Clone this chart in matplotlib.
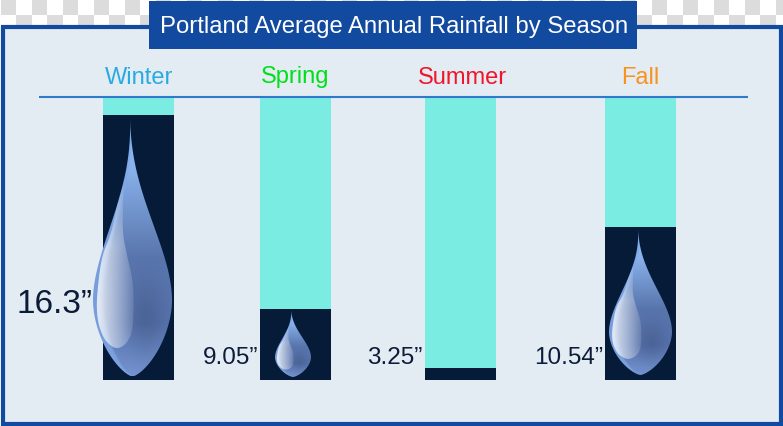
import numpy as np
import matplotlib
matplotlib.use("Agg")
import matplotlib.pyplot as plt
from matplotlib.patches import Rectangle, Polygon

plt.rcParams['font.family'] = ['Liberation Sans', 'DejaVu Sans']

TITLE = "Portland Average Annual Rainfall by Season"
seasons = ["Winter", "Spring", "Summer", "Fall"]
season_colors = ["#29abe2", "#00e01a", "#f0152b", "#f7931e"]
rain_labels = ["16.3”", "9.05”", "3.25”", "10.54”"]
# Fill heights as drawn in the picture (the graphic is not to scale with its labels)
drawn_levels = [265, 71, 12, 153]
column_capacity = [283, 283, 283, 283]

W, H = 783, 426
fig = plt.figure(figsize=(W / 100, H / 100), dpi=100, facecolor="white")

# background layer in pixel coordinates
bg = fig.add_axes([0, 0, 1, 1], zorder=0)
bg.set_xlim(0, W); bg.set_ylim(H, 0); bg.axis("off")
for r, top in enumerate(range(0, 31, 15)):
    for c in range(0, 52):
        if (r + c) % 2 == 0:
            bg.add_patch(Rectangle((0.7 + c * 15.5, top), 15.5, 15, fc="#dcdcdc", ec="none"))
bg.add_patch(Rectangle((3, 27), 778, 397, fc="#e3ebf3", ec="#124a9f", lw=3, zorder=3))

# columns
centers = [138.5, 295.5, 460.5, 640.5]
bars = fig.add_axes([0, (H - 380) / H, 1, 283 / H], zorder=1)
bars.set_xlim(0, W); bars.set_ylim(0, 283); bars.axis("off"); bars.patch.set_alpha(0)
bars.bar(centers, column_capacity, width=71, color="#7aece2")
bars.bar(centers, drawn_levels, width=71, color="#051b38")

# overlay layer
ax = fig.add_axes([0, 0, 1, 1], zorder=2)
ax.set_xlim(0, W); ax.set_ylim(H, 0); ax.axis("off"); ax.patch.set_alpha(0)


def width_at(t):
    """Teardrop half-width (relative) at relative height t."""
    t = np.asarray(t, dtype=float)
    up = np.clip(t / .71, 0, 1) ** 1.22
    upper = 3 * up ** 2 - 2 * up ** 3
    low = np.clip((t - .71) / .29, 0, 1)
    lower = np.clip(1 - low ** 1.8, 0, 1) ** .7
    return np.where(t < .71, upper, lower)


stops_t = [0, .2, .4, .55, .8, 1]
stops_c = np.array([[.56, .74, .97], [.54, .70, .93], [.43, .56, .78],
                    [.35, .46, .68], [.34, .45, .68], [.46, .58, .82]])

hl_x = np.array([372, 368, 355, 335, 305, 290, 294, 312, 335, 355, 380, 398, 402, 399, 385, 368, 370])
hl_y = np.array([215, 260, 300, 400, 470, 600, 665, 715, 738, 745, 730, 695, 620, 540, 480, 400, 300])
hl_u = (hl_x - 398) / 118
hl_t = (hl_y - 45) / 783


def smooth_closed(v, n):
    k = np.ones(n) / n
    return np.convolve(np.r_[v[-n:], v, v[:n]], k, mode="same")[n:-n]


def draw_drop(cx, half, tip_x, tip_y, bottom):
    h = bottom - tip_y
    t = np.linspace(0, 1, 500)
    w = width_at(t)
    shift = (tip_x - cx) * (1 - np.clip(t / 0.6, 0, 1)) ** 1.5
    xs = np.r_[cx + shift - w * half, (cx + shift + w * half)[::-1]]
    ys = np.r_[tip_y + t * h, (tip_y + t * h)[::-1]]
    outline = Polygon(np.c_[xs, ys], closed=True, fc="none", ec="none")
    ax.add_patch(outline)

    ny, nx = 400, 300
    U, T = np.meshgrid(np.linspace(-1.05, 1.05, nx), np.linspace(0, 1, ny))
    rgb = np.stack([np.interp(T, stops_t, stops_c[:, i]) for i in range(3)], axis=-1)
    S = U / np.maximum(width_at(T), .02)
    rim = np.clip((-S - .7) / .12, 0, 1)[..., None]
    rgb = rgb * (1 - .8 * rim) + np.array([.50, .66, .90]) * .8 * rim
    dark = np.exp(-(((U - .35) / .45) ** 2 + ((T - .78) / .14) ** 2))[..., None]
    rgb = rgb * (1 - .12 * dark)
    ext = (cx - 1.05 * half, cx + 1.05 * half, bottom, tip_y)
    im = ax.imshow(rgb, extent=ext, aspect="auto", interpolation="bilinear", zorder=4)
    im.set_clip_path(outline)

    # highlight
    idx = np.linspace(0, len(hl_u), 400, endpoint=False)
    xp = np.arange(len(hl_u) + 1)
    hu = smooth_closed(np.interp(idx, xp, np.r_[hl_u, hl_u[0]]), 21)
    ht = smooth_closed(np.interp(idx, xp, np.r_[hl_t, hl_t[0]]), 21)
    hp = Polygon(np.c_[cx + hu * half, tip_y + ht * h], closed=True, fc="none", ec="none")
    ax.add_patch(hp)
    a = np.clip(.88 - .72 * (U + .85) / .85, .16, .88) * np.clip((T - .2) / .3, .15, 1)
    rgba = np.dstack([np.full_like(U, .93), np.full_like(U, .95), np.full_like(U, .98), a])
    im2 = ax.imshow(rgba, extent=ext, aspect="auto", interpolation="bilinear", zorder=5)
    im2.set_clip_path(hp)


draw_drop(132.5, 39.5, 130, 380 - drawn_levels[0], 376.5)
draw_drop(293, 18, 291, 380 - drawn_levels[1], 377)
draw_drop(640.5, 31.5, 638, 380 - drawn_levels[3], 375)
ax.set_xlim(0, W); ax.set_ylim(H, 0)

# title box + rule
ax.add_patch(Rectangle((149, 1), 488, 48, fc="#124a9f", ec="none", zorder=6))
ax.text(394, 26.5, TITLE, color="white", fontsize=17.2, ha="center", va="center", zorder=7)
ax.plot([39, 748], [96.5, 96.5], color="#2e7cc9", lw=1.5, solid_capstyle="butt", zorder=6)

for x, s, c in zip([139, 295, 462, 640], seasons, season_colors):
    ax.text(x, 77.5, s, color=c, fontsize=17, ha="center", va="center", zorder=7)

label_right = [92.5, 258.5, 422.5, 603.5]
label_y = [304.5, 358, 358, 358]
label_size = [24, 17.5, 17.5, 17.5]
for x, y, s, fs in zip(label_right, label_y, rain_labels, label_size):
    ax.text(x, y, s, color="#0c1c38", fontsize=fs, ha="right", va="center", zorder=7)

fig.savefig("out.png", dpi=100)
